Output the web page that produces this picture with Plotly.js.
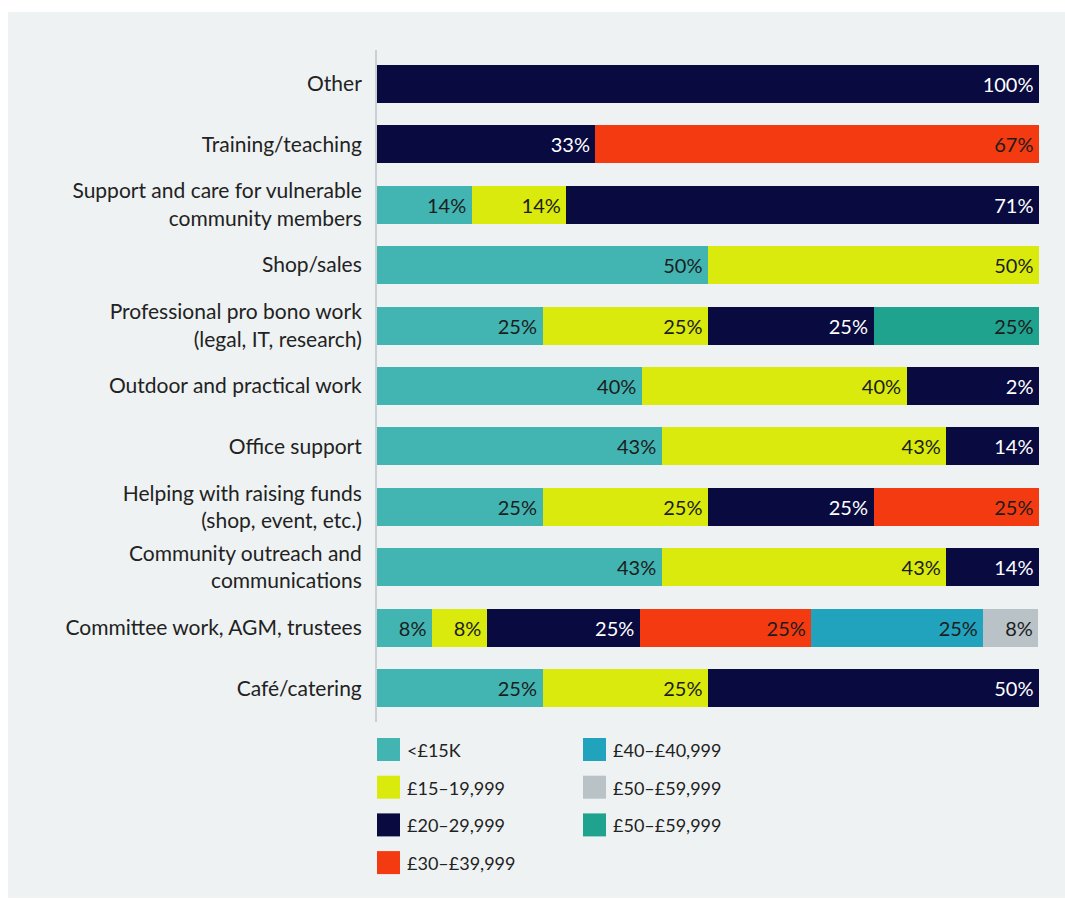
<!DOCTYPE html>
<html>
<head>
<meta charset="utf-8">
<script src="https://cdn.plot.ly/plotly-3.0.1.min.js"></script>
<style>html,body{margin:0;padding:0;background:#fff;}#chart{width:1065px;height:899px;}</style>
</head>
<body>
<div id="chart"></div>
<script>
// Categories, top to bottom
var categories = [
  "Other",
  "Training/teaching",
  "Support and care for vulnerable<br>community members",
  "Shop/sales",
  "Professional pro bono work<br>(legal, IT, research)",
  "Outdoor and practical work",
  "Office support",
  "Helping with raising funds<br>(shop, event, etc.)",
  "Community outreach and<br>communications",
  "Committee work, AGM, trustees",
  "Café/catering"
];

var seriesNames = ["<£15K", "£15–19,999", "£20–29,999", "£30–£39,999", "£40–£40,999", "£50–£59,999", "£50–£59,999"];

// bar lengths (% of respondents)
var under15 = [null, null, 14.3, 50, 25, 40, 43, 25, 43, 8.3, 25];
var s15to19 = [null, null, 14.3, 50, 25, 40, 43, 25, 43, 8.3, 25];
var s20to29 = [100, 33, 71.4, null, 25, 20, 14, 25, 14, 23.1, 50];
var s30to39 = [null, 67, null, null, null, null, null, 25, null, 25.9, null];
var s40to40 = [null, null, null, null, null, null, null, null, null, 26.0, null];
var s50to59a = [null, null, null, null, null, null, null, null, null, 8.3, null];
var s50to59b = [null, null, null, null, 25, null, null, null, null, null, null];

// labels as printed on the bars
var under15Text = ["", "", "14%", "50%", "25%", "40%", "43%", "25%", "43%", "8%", "25%"];
var s15to19Text = ["", "", "14%", "50%", "25%", "40%", "43%", "25%", "43%", "8%", "25%"];
var s20to29Text = ["100%", "33%", "71%", "", "25%", "2%", "14%", "25%", "14%", "25%", "50%"];
var s30to39Text = ["", "67%", "", "", "", "", "", "25%", "", "25%", ""];
var s40to40Text = ["", "", "", "", "", "", "", "", "", "25%", ""];
var s50to59aText = ["", "", "", "", "", "", "", "", "", "8%", ""];
var s50to59bText = ["", "", "", "", "25%", "", "", "", "", "", ""];

var seriesValues = [under15, s15to19, s20to29, s30to39, s40to40, s50to59a, s50to59b];
var seriesText = [under15Text, s15to19Text, s20to29Text, s30to39Text, s40to40Text, s50to59aText, s50to59bText];
var colors = ["#42b4b2", "#d9ea0c", "#080a40", "#f43a11", "#21a2bd", "#b9c3c7", "#1fa38f"];
var textColors = ["#1c1c1c", "#1c1c1c", "#ffffff", "#1c1c1c", "#1c1c1c", "#1c1c1c", "#1c1c1c"];

var FONT = "Lato, 'Open Sans', sans-serif";
var W = 1065, H = 899;
var M = {l: 377, r: 26, t: 50, b: 177};
var PW = W - M.l - M.r, PH = H - M.t - M.b;
function px(x) { return (x - M.l) / PW; }
function py(y) { return (H - M.b - y) / PH; }

var traces = seriesNames.map(function (name, i) {
  return {
    type: "bar",
    orientation: "h",
    name: name,
    y: categories,
    x: seriesValues[i],
    text: seriesText[i].map(function (t) { return t ? t + "\u2009" : ""; }),
    textposition: "inside",
    insidetextanchor: "end",
    constraintext: "none",
    textangle: 0,
    textfont: {family: FONT, size: 20, color: textColors[i]},
    marker: {color: colors[i], line: {width: 0}},
    showlegend: false,
    hoverinfo: "name+x"
  };
});

var shapes = [{
  type: "rect", xref: "paper", yref: "paper", layer: "below",
  x0: px(8), x1: px(1065), y0: py(898), y1: py(12),
  fillcolor: "#eef2f3", line: {width: 0}
}];
var annotations = [];
seriesNames.forEach(function (name, i) {
  var col = i < 4 ? 0 : 1;
  var row = i < 4 ? i : i - 4;
  var sx = col === 0 ? 377 : 583;
  var sy = 738 + row * 37.7;
  shapes.push({
    type: "rect", xref: "paper", yref: "paper",
    x0: px(sx), x1: px(sx + 23), y0: py(sy + 23), y1: py(sy),
    fillcolor: colors[i], line: {width: 0}
  });
  annotations.push({
    xref: "paper", yref: "paper", x: px(sx + 28), y: py(sy + 12),
    xanchor: "left", yanchor: "middle", showarrow: false,
    text: name.replace("<", "&lt;"),
    font: {family: FONT, size: 18, color: "#222222"}
  });
});

var layout = {
  width: W, height: H,
  margin: M,
  paper_bgcolor: "#ffffff",
  plot_bgcolor: "rgba(0,0,0,0)",
  barmode: "stack",
  bargap: 0.37,
  showlegend: false,
  font: {family: FONT, color: "#222222"},
  xaxis: {range: [0, 100], visible: false, fixedrange: true},
  yaxis: {
    type: "category",
    categoryorder: "array",
    categoryarray: categories,
    range: [10.56, -0.56],
    showline: true, linecolor: "#c9d1d4", linewidth: 2,
    showgrid: false, zeroline: false, ticks: "",
    ticklabelstandoff: 9,
    tickfont: {family: FONT, size: 21, color: "#222222"},
    fixedrange: true
  },
  shapes: shapes,
  annotations: annotations
};

Plotly.newPlot("chart", traces, layout, {displayModeBar: false, staticPlot: true});
</script>
</body>
</html>
